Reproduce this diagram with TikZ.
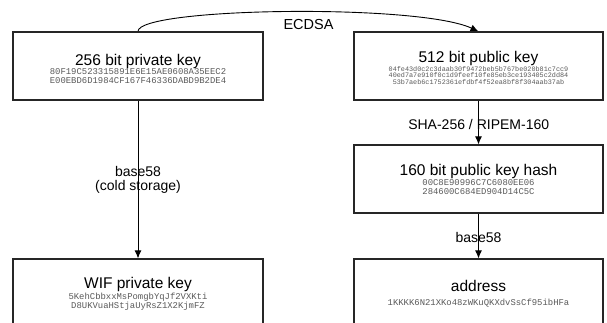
\documentclass[tikz,border=0pt]{standalone}
\usepackage{fontspec}
\setmainfont{Liberation Sans}
\newfontfamily\hexfont{Liberation Mono}
\usetikzlibrary{arrows.meta}
\definecolor{hexgray}{HTML}{5A5A5A}
\tikzset{
  box/.style={draw=black!85, fill=white, line width=1.2pt, minimum width=#1, minimum height=68pt, inner sep=0pt},
  title/.style={anchor=base, inner sep=0pt, font=\fontsize{15.5}{17}\selectfont},
  hex/.style={anchor=base, inner sep=0pt, text=hexgray, font=\hexfont\fontsize{8.9}{9}\selectfont},
  hexs/.style={anchor=base, inner sep=0pt, text=hexgray, font=\hexfont\fontsize{6.8}{7}\selectfont},
  lbl/.style={anchor=base, inner sep=0pt, font=\fontsize{14}{15}\selectfont},
  conn/.style={line width=0.9pt, -{Latex[length=8pt,width=7pt]}}
}
\begin{document}
\begin{tikzpicture}[x=1pt,y=-1pt]
\useasboundingbox (0,0) rectangle (607,322);
\clip (0,0) rectangle (607,322);
% box positions (drawn later, on top of connectors)
\coordinate (privC) at (138,66);
\coordinate (pubC) at (478.5,66);
\coordinate (hashC) at (478.5,179);
\coordinate (wifC) at (138,293);
\coordinate (addrC) at (478.5,293);
\path (privC) node[box=250pt, draw=none, fill=none] (priv) {};
\path (pubC) node[box=249pt, draw=none, fill=none] (pub) {};
\path (hashC) node[box=249pt, draw=none, fill=none] (hash) {};
\path (wifC) node[box=250pt, draw=none, fill=none] (wif) {};
\path (addrC) node[box=249pt, draw=none, fill=none] (addr) {};
% connectors
\draw[conn] (priv.north) .. controls +(0,-24) and +(-60,-28) .. (pub.north);
\draw[conn] (priv.south) -- (wif.north);
\draw[conn] (pub.south) -- (hash.north);
\draw[conn] (hash.south) -- (addr.north);
% visible boxes
\node[box=250pt] (privB) at (privC) {};
\node[box=249pt] (pubB) at (pubC) {};
\node[box=249pt] (hashB) at (hashC) {};
\node[box=250pt] (wifB) at (wifC) {};
\node[box=249pt] (addrB) at (addrC) {};
% texts
\node[title] (privT) at (138,65.3) {256 bit private key};
\node[hex] (privH1) at (138,74.6) {80F19C523315891E6E15AE0608A35EEC2};
\node[hex] (privH2) at (138,83.4) {E00EBD6D1984CF167F46336DABD9B2DE4};
\node[title] (pubT) at (478.5,62.5) {512 bit public key};
\node[hexs] (pubH1) at (478.5,71) {04fe43d0c2c3daab30f9472beb5b767be020b81c7cc9};
\node[hexs] (pubH2) at (478.5,77.6) {40ed7a7e910f0c1d9feef10fe85eb3ce193405c2dd84};
\node[hexs] (pubH3) at (478.5,84.2) {53b7aeb6c1752361efdbf4f52ea8bf8f304aab37ab};
\node[title] (hashT) at (478.5,175) {160 bit public key hash};
\node[hex] (hashH1) at (478.5,185.7) {00C8E90996C7C6080EE06};
\node[hex] (hashH2) at (478.5,194.3) {284600C684ED904D14C5C};
\node[title] (wifT) at (138,288.3) {WIF private key};
\node[hex] (wifH1) at (138,299) {5KehCbbxxMsPomgbYqJf2VXKti};
\node[hex] (wifH2) at (138,308.3) {D8UKVuaHStjaUyRsZ1X2KjmFZ};
\node[title] (addrT) at (478.5,291.7) {address};
\node[hex] (addrH) at (478.5,305) {1KKKK6N21XKo48zWKuQKXdvSsCf95ibHFa};
% labels
\node[lbl,font=\fontsize{14.5}{15}\selectfont] (ecdsa) at (308.5,29.3) {ECDSA};
\node[lbl] (sha) at (478.7,129.3) {SHA-256 / RIPEM-160};
\node[lbl] (b58r) at (478.5,242) {base58};
\node[lbl] (b58l) at (138,176.7) {base58};
\node[lbl] (cold) at (138,190) {(cold storage)};
\end{tikzpicture}
\end{document}
